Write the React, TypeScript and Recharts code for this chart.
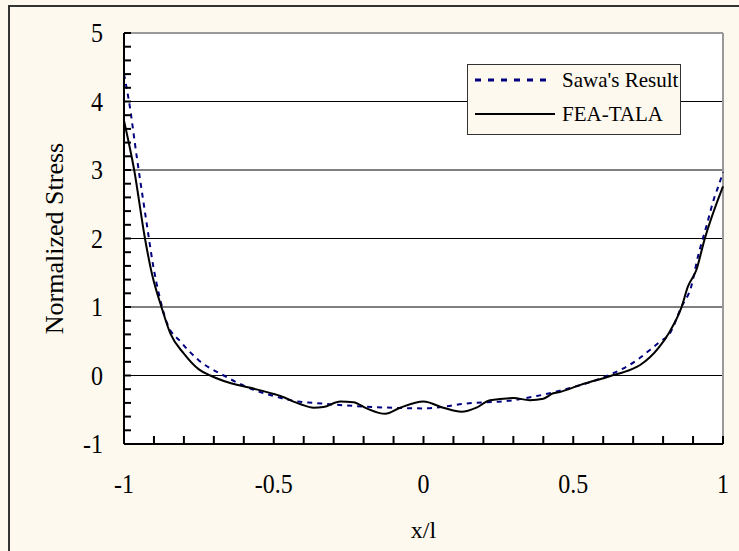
import React from "react";
import {
  LineChart, Line, XAxis, YAxis, CartesianGrid, ReferenceLine, Legend
} from "recharts";

// Sawa's analytical result (dotted navy curve)
const sawaX = [
  -1, -0.984, -0.956, -0.926, -0.9, -0.884, -0.856, -0.81, -0.75, -0.667,
  -0.578, -0.5, -0.42, -0.367, -0.167, 0, 0.077, 0.12, 0.3, 0.378,
  0.5, 0.622, 0.711, 0.755, 0.788, 0.822, 0.861, 0.894, 0.916, 0.944,
  0.972, 0.986, 1,
];
const sawaY = [
  4.4, 4.02, 3.15, 2.27, 1.54, 1.2, 0.76, 0.49, 0.22, 0.0,
  -0.19, -0.3, -0.38, -0.4, -0.46, -0.48, -0.45, -0.42, -0.36, -0.3,
  -0.17, 0.01, 0.22, 0.37, 0.49, 0.61, 1.0, 1.3, 1.73, 2.17,
  2.61, 2.78, 2.97,
];

// FEA-TALA result (solid black curve)
const feaX = [
  -1, -0.966, -0.93, -0.906, -0.875, -0.845, -0.8, -0.75, -0.712, -0.667,
  -0.578, -0.5, -0.478, -0.41, -0.367, -0.334, -0.278, -0.234, -0.19, -0.128,
  -0.078, 0, 0.066, 0.127, 0.177, 0.222, 0.3, 0.355, 0.4, 0.433,
  0.455, 0.522, 0.622, 0.694, 0.722, 0.788, 0.822, 0.861, 0.883, 0.911,
  0.938, 1,
];
const feaY = [
  3.72, 3.0, 2.0, 1.47, 1.0, 0.61, 0.32, 0.09, 0.0, -0.08,
  -0.18, -0.27, -0.3, -0.42, -0.47, -0.46, -0.38, -0.39, -0.48, -0.56,
  -0.47, -0.38, -0.47, -0.53, -0.47, -0.36, -0.33, -0.36, -0.34, -0.26,
  -0.24, -0.14, -0.01, 0.09, 0.15, 0.42, 0.64, 0.99, 1.3, 1.54,
  1.98, 2.76,
];

const xLabels = [-1, -0.5, 0, 0.5, 1];
const gridValues = [0, 1, 2, 3, 4];
// every minor tick, majors included (labels only on the majors)
const xTicks = Array.from({ length: 21 }, (_, i) => Math.round((-1 + i * 0.1) * 10) / 10);
const yTicks = Array.from({ length: 31 }, (_, i) => Math.round((-1 + i * 0.2) * 10) / 10);

const sawaData = sawaX.map((x, i) => ({ x, y: sawaY[i] }));
const feaData = feaX.map((x, i) => ({ x, y: feaY[i] }));

const FONT = "Liberation Serif, Times New Roman, serif";
const CREAM = "#FDF9EE";
const NAVY = "#000080";
const STRETCH = 1.12; // the original figure's text is a bit taller than wide

function XTick({ x, y, payload }: any) {
  const v = payload.value;
  if (!xLabels.includes(v)) return null;
  return (
    <g transform={`translate(${x},${y})`}>
      <text transform={`scale(1,${STRETCH})`} textAnchor="middle" dy="0.71em"
        style={{ fontFamily: FONT, fontSize: 24, fill: "#000" }}>{String(v)}</text>
    </g>
  );
}

function YTick({ x, y, payload }: any) {
  const v = payload.value;
  if (!Number.isInteger(v)) return null;
  return (
    <g transform={`translate(${x},${y})`}>
      <text transform={`scale(1,${STRETCH})`} textAnchor="end" dy="0.35em"
        style={{ fontFamily: FONT, fontSize: 24, fill: "#000" }}>{String(v)}</text>
    </g>
  );
}

function LegendBox() {
  const txt = { fontFamily: FONT, fontSize: 21, fill: "#000" };
  return (
    <div style={{ width: 214, height: 71, boxSizing: "border-box", border: "1px solid #333", background: CREAM }}>
      <svg width={212} height={69} style={{ display: "block" }}>
        <line x1={7} x2={84} y1={15} y2={15} stroke={NAVY} strokeWidth={3} strokeDasharray="6 7" />
        <text x={94} y={15} dy="0.35em" style={txt}>Sawa's Result</text>
        <line x1={7} x2={87} y1={49} y2={49} stroke="#000" strokeWidth={2} />
        <text x={94} y={49} dy="0.35em" style={txt}>FEA-TALA</text>
      </svg>
    </div>
  );
}

export default function App() {
  return (
    <div style={{ position: "relative", width: 739, height: 551, background: CREAM, overflow: "hidden" }}>
      <style>{`body{margin:0}`}</style>
      <div style={{
        position: "absolute", left: 8, top: 5, width: 800, height: 600,
        borderLeft: "2px solid #333", borderTop: "2px solid #333"
      }} />
      <div style={{ position: "absolute", left: 0, top: 0 }}>
        <LineChart width={739} height={551} margin={{ top: 33, right: 16, left: 123, bottom: 106 }}>
          <CartesianGrid vertical={false} horizontalValues={gridValues} fill="#fff" stroke="#000" strokeWidth={1} />
          <XAxis
            type="number"
            dataKey="x"
            domain={[-1, 1]}
            ticks={xTicks}
            interval={0}
            height={1}
            tickSize={-8}
            tickMargin={38}
            tickLine={{ stroke: "#000", strokeWidth: 2 }}
            axisLine={{ stroke: "#000", strokeWidth: 2 }}
            tick={<XTick />}
            allowDuplicatedCategory={false}
            label={{ value: "x/l", position: "bottom", offset: 76, fontSize: 24, fill: "#000", fontFamily: FONT }}
          />
          <YAxis
            type="number"
            domain={[-1, 5]}
            ticks={yTicks}
            interval={0}
            width={1}
            tickSize={-7}
            tickMargin={28}
            tickLine={{ stroke: "#000", strokeWidth: 2 }}
            axisLine={{ stroke: "#000", strokeWidth: 2 }}
            tick={<YTick />}
            label={{ value: "Normalized Stress", position: "center", angle: -90, dx: -70, fontSize: 26, fill: "#000", fontFamily: FONT }}
          />
          <ReferenceLine y={5} stroke="#9a9a9a" strokeWidth={2} />
          <ReferenceLine x={1} stroke="#9a9a9a" strokeWidth={2} />
          <Legend
            layout="vertical"
            align="center"
            verticalAlign="middle"
            wrapperStyle={{ left: 467, top: 64, width: 214 }}
            content={() => <LegendBox />}
          />
          <Line
            data={sawaData}
            dataKey="y"
            name="Sawa's Result"
            type="monotone"
            stroke={NAVY}
            strokeWidth={2}
            strokeDasharray="5 5"
            dot={false}
            isAnimationActive={false}
          />
          <Line
            data={feaData}
            dataKey="y"
            name="FEA-TALA"
            type="monotone"
            stroke="#000"
            strokeWidth={2}
            dot={false}
            isAnimationActive={false}
          />
        </LineChart>
      </div>
    </div>
  );
}
